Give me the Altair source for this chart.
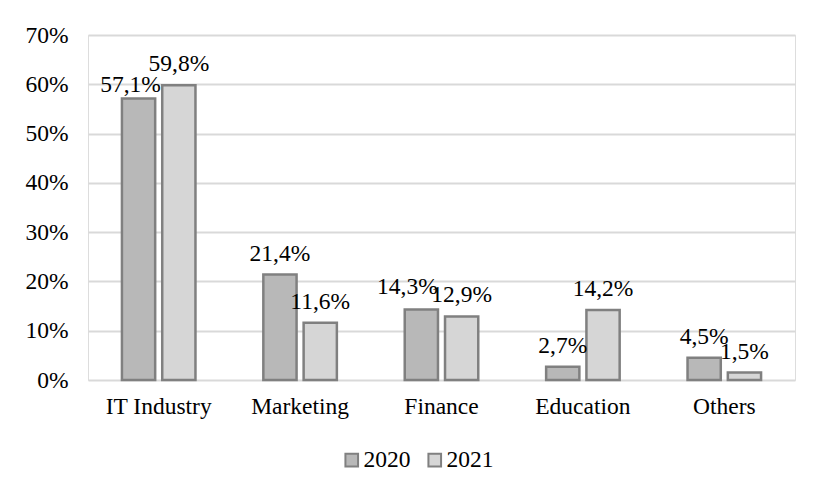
import altair as alt
import pandas as pd

categories = ["IT Industry", "Marketing", "Finance", "Education", "Others"]
years = ["2020", "2021"]
values_2020 = [57.1, 21.4, 14.3, 2.7, 4.5]
values_2021 = [59.8, 11.6, 12.9, 14.2, 1.5]
y_ticks = [0, 10, 20, 30, 40, 50, 60, 70]

rows = []
for c, a, b in zip(categories, values_2020, values_2021):
    rows.append({"category": c, "year": "2020", "value": a})
    rows.append({"category": c, "year": "2021", "value": b})
df = pd.DataFrame(rows)

FONT = "Liberation Serif"
FS = 23.5

x = alt.X(
    "category:N",
    sort=categories,
    scale=alt.Scale(paddingInner=0.48, paddingOuter=0.24),
    axis=alt.Axis(
        title=None, labelAngle=0, domain=False, ticks=False, grid=False,
        labelFont=FONT, labelFontSize=FS, labelColor="#000000", labelPadding=14,
    ),
)
xoff = alt.XOffset("year:N", sort=years, scale=alt.Scale(paddingInner=0.175, paddingOuter=0))
y = alt.Y(
    "value:Q",
    scale=alt.Scale(domain=[0, 70], nice=False),
    axis=alt.Axis(
        title=None, values=y_ticks, labelExpr="datum.value + '%'",
        domain=False, ticks=False, grid=True, gridColor="#d9d9d9", gridWidth=2,
        labelFont=FONT, labelFontSize=FS, labelColor="#000000", labelPadding=20,
    ),
)
color = alt.Color(
    "year:N",
    sort=years,
    scale=alt.Scale(domain=years, range=["#b8b8b8", "#d6d6d6"]),
    legend=alt.Legend(
        title=None, orient="none", legendX=252, legendY=413, direction="horizontal",
        symbolType="square", symbolSize=160, symbolStrokeColor="#808080",
        symbolStrokeWidth=2, labelFont=FONT, labelFontSize=FS, labelColor="#000000",
        columnPadding=12, labelOffset=0,
    ),
)

base = alt.Chart(df).encode(x=x, xOffset=xoff)

bars = base.mark_bar(stroke="#808080", strokeWidth=2.5).encode(y=y, color=color)

labelled = base.transform_calculate(
    label="replace(format(datum.value, '.1f'), '.', ',') + '%'",
    key="datum.category + '|' + datum.year",
)

text_kw = dict(font=FONT, fontSize=FS, color="#000000", baseline="alphabetic")

labels_main = labelled.transform_filter(
    "datum.key != 'IT Industry|2020' && datum.key != 'Finance|2020'"
).mark_text(dy=-14, **text_kw).encode(y="value:Q", text="label:N")

labels_it = labelled.transform_filter(
    "datum.key == 'IT Industry|2020'"
).mark_text(dy=-7, dx=-8, **text_kw).encode(y="value:Q", text="label:N")

labels_fin = labelled.transform_filter(
    "datum.key == 'Finance|2020'"
).mark_text(dy=-16, dx=-14, **text_kw).encode(y="value:Q", text="label:N")

chart = alt.layer(bars, labels_main, labels_it, labels_fin).properties(
    width=707,
    height=345,
    autosize=alt.AutoSizeParams(type="none"),
    padding={"left": 80, "top": 27, "right": 15, "bottom": 100},
).configure_view(stroke=None).configure(background="#ffffff")

chart.save("out.html", embed_options={"renderer": "svg", "actions": False})
